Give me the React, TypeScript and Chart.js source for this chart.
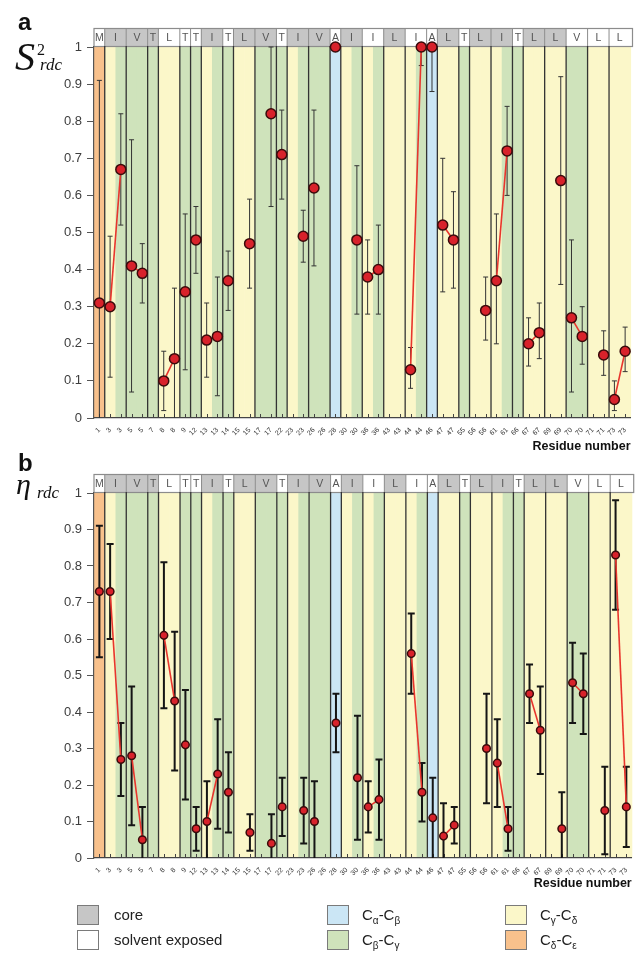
import React, { useEffect, useRef } from 'react';
import { Chart, registerables } from 'chart.js';

Chart.register(...registerables);

const FONT = '"Liberation Sans", Arial, Helvetica, sans-serif';
const SERIF = '"Liberation Serif", "Times New Roman", serif';

// ---- residues (header band) ----
const residueLetters = ['M','I','V','T','L','T','T','I','T','L','V','T','I','V','A','I','I','L','I','A','L','T','L','I','T','L','L','V','L','L'];
const residueNumbers = [1,3,5,7,8,9,12,13,14,15,17,22,23,26,28,30,36,43,44,46,47,55,56,61,66,67,69,70,71,73];
const methylsPerResidue = [1,2,2,1,2,1,1,2,1,2,2,1,2,2,1,2,2,2,2,1,2,1,2,2,1,2,2,2,2,2];
const residueCore = [false,true,true,true,false,false,false,true,false,true,true,false,true,true,false,true,false,true,false,false,true,false,true,true,false,true,true,false,false,false];

// ---- x tick labels (one per methyl group) ----
const xLabels = ['1','3','3','5','5','7','8','8','9','12','13','13','14','15','15','17','17','22','23','23','26','26','28','30','30','36','36','43','43','44','44','46','47','47','55','56','56','61','61','66','67','67','69','69','70','70','71','71','73','73'];

// ---- y tick labels ----
const yTickLabels = ['0','0.1','0.2','0.3','0.4','0.5','0.6','0.7','0.8','0.9','1'];

// ---- bond type for each methyl column ----
const bondTypes = ['de','gd','bg','bg','bg','bg','gd','gd','bg','bg','gd','bg','bg','gd','gd','bg','bg','bg','gd','bg','bg','bg','ab','gd','bg','gd','bg','gd','gd','gd','bg','ab','gd','gd','bg','gd','gd','gd','bg','bg','gd','gd','gd','gd','bg','bg','gd','gd','gd','gd'];

// ---- panel a : S2 rdc ----
const s2Values = [0.31,0.30,0.67,0.41,0.39,null,0.10,0.16,0.34,0.48,0.21,0.22,0.37,null,0.47,null,0.82,0.71,null,0.49,0.62,null,1.0,null,0.48,0.38,0.40,null,null,0.13,1.0,1.0,0.52,0.48,null,null,0.29,0.37,0.72,null,0.20,0.23,null,0.64,0.27,0.22,null,0.17,0.05,0.18];
const s2Low = [0,0.11,0.52,0.07,0.31,null,0.02,0,0.13,0.39,0.11,0.06,0.29,null,0.35,null,0.57,0.59,null,0.42,0.41,null,1.0,null,0.28,0.28,0.28,null,null,0.08,0.95,0.88,0.34,0.35,null,null,0.21,0.20,0.60,null,0.14,0.16,null,0.36,0.07,0.145,null,0.115,0.02,0.125];
const s2High = [0.91,0.49,0.82,0.75,0.47,null,0.18,0.35,0.55,0.57,0.31,0.38,0.45,null,0.59,null,1.0,0.83,null,0.56,0.83,null,1.0,null,0.68,0.48,0.52,null,null,0.19,1.0,1.0,0.70,0.61,null,null,0.38,0.55,0.84,null,0.27,0.31,null,0.92,0.48,0.30,null,0.235,0.10,0.245];

// ---- panel b : eta rdc ----
const etaValues = [0.73,0.73,0.27,0.28,0.05,null,0.61,0.43,0.31,0.08,0.10,0.23,0.18,null,0.07,null,0.04,0.14,null,0.13,0.10,null,0.37,null,0.22,0.14,0.16,null,null,0.56,0.18,0.11,0.06,0.09,null,null,0.30,0.26,0.08,null,0.45,0.35,null,0.08,0.48,0.45,null,0.13,0.83,0.14];
const etaLow = [0.55,0.60,0.17,0.09,0,null,0.41,0.24,0.16,0.02,0,0.08,0.07,null,0.02,null,0,0.06,null,0.04,0,null,0.29,null,0.05,0.07,0.05,null,null,0.45,0.10,0,0,0.04,null,null,0.15,0.14,0.02,null,0.37,0.23,null,0,0.37,0.34,null,0.01,0.68,0.03];
const etaHigh = [0.91,0.86,0.37,0.47,0.14,null,0.81,0.62,0.46,0.14,0.21,0.38,0.29,null,0.12,null,0.12,0.22,null,0.22,0.21,null,0.45,null,0.39,0.21,0.27,null,null,0.67,0.26,0.22,0.15,0.14,null,null,0.45,0.38,0.14,null,0.53,0.47,null,0.18,0.59,0.56,null,0.25,0.98,0.25];

const bondFill: Record<string, string> = {
  de: '#f8c18c',
  ab: '#cbe6f5',
  bg: '#cfe3bb',
  gd: '#fbf7c9',
};
const CORE_GRAY = '#c6c6c6';
const LINE_RED = '#e8352d';
const POINT_RED = '#d8222b';

const groupIndex: number[] = [];
methylsPerResidue.forEach((n, r) => {
  for (let k = 0; k < n; k++) groupIndex.push(r);
});

type PanelCfg = {
  values: (number | null)[];
  low: (number | null)[];
  high: (number | null)[];
  top: number;
  height: number;
  areaTop: number;
  xHeight: number;
  pointRadius: number;
  barWidth: number;
  capHalf: number;
  barColor: string;
  titlePadBottom: number;
  lineColor: string;
};

function makePlugin(cfg: PanelCfg) {
  return {
    id: 'methylDecor',
    beforeDraw(chart: any) {
      const { ctx, chartArea: ca } = chart;
      const xs = chart.scales.x;
      const half = (xs.getPixelForValue(1) - xs.getPixelForValue(0)) / 2;
      ctx.save();
      // column backgrounds
      bondTypes.forEach((b, i) => {
        const cx = xs.getPixelForValue(i);
        ctx.fillStyle = bondFill[b];
        ctx.fillRect(cx - half, ca.top - 1, half * 2 + 0.6, ca.bottom - ca.top + 1);
      });
      // header band
      const hTop = ca.top - 19;
      const hBot = ca.top - 1;
      let idx = 0;
      const bounds: number[] = [];
      residueLetters.forEach((letter, r) => {
        const n = methylsPerResidue[r];
        const x0 = xs.getPixelForValue(idx) - half;
        const x1 = xs.getPixelForValue(idx + n - 1) + half;
        ctx.fillStyle = residueCore[r] ? CORE_GRAY : '#ffffff';
        ctx.fillRect(x0, hTop, x1 - x0, hBot - hTop);
        ctx.fillStyle = '#555555';
        ctx.font = `10.5px ${FONT}`;
        ctx.textAlign = 'center';
        ctx.textBaseline = 'middle';
        ctx.fillText(letter, (x0 + x1) / 2, (hTop + hBot) / 2 + 1);
        if (idx > 0) bounds.push(x0);
        idx += n;
      });
      ctx.strokeStyle = '#8c8c8c';
      ctx.lineWidth = 1.2;
      ctx.strokeRect(ca.left, hTop + 0.5, ca.right - ca.left + 2, hBot - hTop);
      bounds.forEach((bx) => {
        ctx.strokeStyle = '#8c8c8c';
        ctx.lineWidth = 1;
        ctx.beginPath();
        ctx.moveTo(bx, hTop);
        ctx.lineTo(bx, hBot);
        ctx.stroke();
        ctx.strokeStyle = '#333333';
        ctx.lineWidth = 1.3;
        ctx.beginPath();
        ctx.moveTo(bx, hBot);
        ctx.lineTo(bx, ca.bottom);
        ctx.stroke();
      });
      // small inside ticks on x axis
      ctx.strokeStyle = '#444';
      ctx.lineWidth = 1;
      xLabels.forEach((_, i) => {
        const cx = Math.round(xs.getPixelForValue(i)) + 0.5;
        ctx.beginPath();
        ctx.moveTo(cx, ca.bottom - 4);
        ctx.lineTo(cx, ca.bottom);
        ctx.stroke();
      });
      ctx.restore();
    },
    beforeDatasetsDraw(chart: any) {
      const { ctx } = chart;
      const xs = chart.scales.x;
      const ys = chart.scales.y;
      ctx.save();
      ctx.strokeStyle = cfg.barColor;
      ctx.lineWidth = cfg.barWidth;
      cfg.low.forEach((lo, i) => {
        const hi = cfg.high[i];
        if (lo == null || hi == null) return;
        const cx = xs.getPixelForValue(i);
        const yl = ys.getPixelForValue(Math.max(lo, 0));
        const yh = ys.getPixelForValue(hi);
        ctx.beginPath();
        ctx.moveTo(cx, yl);
        ctx.lineTo(cx, yh);
        ctx.moveTo(cx - cfg.capHalf, yh);
        ctx.lineTo(cx + cfg.capHalf, yh);
        if (lo > 0) {
          ctx.moveTo(cx - cfg.capHalf, yl);
          ctx.lineTo(cx + cfg.capHalf, yl);
        }
        ctx.stroke();
      });
      ctx.restore();
    },
  };
}

function Panel({ cfg }: { cfg: PanelCfg }) {
  const ref = useRef<HTMLCanvasElement>(null);
  useEffect(() => {
    const canvas = ref.current;
    if (!canvas) return;
    const chart = new Chart(canvas, {
      type: 'line',
      data: {
        labels: xLabels,
        datasets: [
          {
            data: cfg.values,
            borderColor: cfg.lineColor,
            borderWidth: 1.6,
            segment: {
              borderColor: (c: any) =>
                groupIndex[c.p0DataIndex] === groupIndex[c.p1DataIndex] ? cfg.lineColor : 'rgba(0,0,0,0)',
            },
            pointRadius: cfg.pointRadius,
            pointHoverRadius: cfg.pointRadius,
            pointBackgroundColor: POINT_RED,
            pointBorderColor: '#3a0b0b',
            pointBorderWidth: 1.5,
            spanGaps: false,
            tension: 0,
            fill: false,
            clip: false,
          } as any,
        ],
      },
      options: {
        responsive: false,
        devicePixelRatio: 1,
        animation: false,
        layout: { padding: { top: cfg.areaTop, left: 0, right: 1, bottom: 0 } },
        plugins: { legend: { display: false }, tooltip: { enabled: false } },
        scales: {
          x: {
            type: 'category',
            offset: true,
            grid: { display: false },
            border: { display: true, color: '#444', width: 1.2 },
            ticks: {
              autoSkip: false,
              maxRotation: 45,
              minRotation: 45,
              padding: 0,
              color: '#333',
              font: { size: 7, family: FONT },
            },
            title: {
              display: true,
              text: 'Residue number',
              align: 'end',
              color: '#111',
              font: { size: 12.5, weight: 'bold', family: FONT },
              padding: { top: 0, bottom: cfg.titlePadBottom },
            },
            afterFit: (s: any) => {
              s.height = cfg.xHeight;
            },
          },
          y: {
            min: 0,
            max: 1,
            grid: { drawOnChartArea: false, drawTicks: true, tickLength: 7, color: '#555', lineWidth: 1 },
            border: { display: true, color: '#555', width: 1.2 },
            ticks: {
              stepSize: 0.1,
              padding: 5,
              color: '#3d3d3d',
              font: { size: 13, family: FONT },
              callback: (_v: any, i: number) => yTickLabels[i],
            },
            afterFit: (s: any) => {
              s.width = 94;
            },
          },
        },
      } as any,
      plugins: [makePlugin(cfg) as any],
    });
    return () => chart.destroy();
  }, []);
  return (
    <canvas
      ref={ref}
      width={637}
      height={cfg.height}
      style={{ position: 'absolute', left: 0, top: cfg.top, width: 637, height: cfg.height }}
    />
  );
}

const panelA: PanelCfg = {
  values: s2Values,
  low: s2Low,
  high: s2High,
  top: 0,
  height: 455,
  areaTop: 47,
  xHeight: 37,
  pointRadius: 5,
  barWidth: 1,
  capHalf: 2.5,
  barColor: '#333',
  titlePadBottom: 1,
  lineColor: LINE_RED,
};

const panelB: PanelCfg = {
  values: etaValues,
  low: etaLow,
  high: etaHigh,
  top: 455,
  height: 440,
  areaTop: 38,
  xHeight: 37,
  pointRadius: 3.8,
  barWidth: 2,
  capHalf: 3.5,
  barColor: '#151515',
  titlePadBottom: 3.5,
  lineColor: LINE_RED,
};

const legendItems = [
  { x: 77, y: 905, fill: CORE_GRAY, label: 'core' },
  { x: 77, y: 930, fill: '#ffffff', label: 'solvent exposed' },
];

const BX = 327;
const YX = 505;

export default function App() {
  return (
    <div
      style={{
        position: 'absolute',
        left: 0,
        top: 0,
        width: 637,
        height: 963,
        background: '#fff',
        overflow: 'hidden',
      }}
    >
      <Panel cfg={panelA} />
      <Panel cfg={panelB} />
      <svg
        width={637}
        height={963}
        style={{ position: 'absolute', left: 0, top: 0, pointerEvents: 'none' }}
      >
        <g fill="#111">
          <text x={18} y={29.5} fontFamily={FONT} fontWeight="bold" fontSize={24}>a</text>
          <text x={15} y={70} fontFamily={SERIF} fontStyle="italic" fontSize={40}>S</text>
          <text x={37} y={55} fontFamily={SERIF} fontSize={16}>2</text>
          <text x={40} y={70} fontFamily={SERIF} fontStyle="italic" fontSize={17}>rdc</text>

          <text x={18} y={471} fontFamily={FONT} fontWeight="bold" fontSize={24}>b</text>
          <text x={16} y={494} fontFamily={SERIF} fontStyle="italic" fontSize={30}>η</text>
          <text x={37} y={498} fontFamily={SERIF} fontStyle="italic" fontSize={17}>rdc</text>
        </g>
        {legendItems.map((it) => (
          <g key={it.label}>
            <rect x={it.x + 0.5} y={it.y + 0.5} width={21} height={19} fill={it.fill} stroke="#7a7a7a" />
            <text x={it.x + 37} y={it.y + 15} fontFamily={FONT} fontSize={15} fill="#222">{it.label}</text>
          </g>
        ))}
        <g>
          <rect x={BX + 0.5} y={905.5} width={21} height={19} fill={bondFill.ab} stroke="#7a7a7a" />
          <text x={BX + 35} y={920} fontFamily={FONT} fontSize={15} fill="#222">
            C<tspan fontSize={10} dy={4}>α</tspan><tspan dy={-4}>-C</tspan><tspan fontSize={10} dy={4}>β</tspan>
          </text>
          <rect x={BX + 0.5} y={930.5} width={21} height={19} fill={bondFill.bg} stroke="#7a7a7a" />
          <text x={BX + 35} y={945} fontFamily={FONT} fontSize={15} fill="#222">
            C<tspan fontSize={10} dy={4}>β</tspan><tspan dy={-4}>-C</tspan><tspan fontSize={10} dy={4}>γ</tspan>
          </text>
          <rect x={YX + 0.5} y={905.5} width={21} height={19} fill={bondFill.gd} stroke="#7a7a7a" />
          <text x={YX + 35} y={920} fontFamily={FONT} fontSize={15} fill="#222">
            C<tspan fontSize={10} dy={4}>γ</tspan><tspan dy={-4}>-C</tspan><tspan fontSize={10} dy={4}>δ</tspan>
          </text>
          <rect x={YX + 0.5} y={930.5} width={21} height={19} fill={bondFill.de} stroke="#7a7a7a" />
          <text x={YX + 35} y={945} fontFamily={FONT} fontSize={15} fill="#222">
            C<tspan fontSize={10} dy={4}>δ</tspan><tspan dy={-4}>-C</tspan><tspan fontSize={10} dy={4}>ε</tspan>
          </text>
        </g>
      </svg>
    </div>
  );
}
